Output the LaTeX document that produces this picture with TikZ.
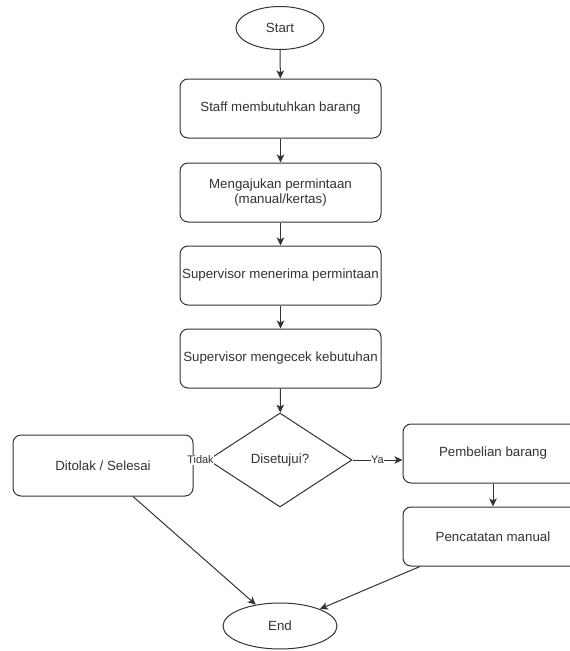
\documentclass[tikz,border=0pt]{standalone}
\usepackage{fontspec}
\setmainfont{Liberation Sans}
\usetikzlibrary{arrows.meta,shapes.geometric}
\definecolor{ink}{HTML}{333333}
\tikzset{
  procbox/.style={draw=ink,line width=1pt,rounded corners=8pt,fill=white,
    minimum width=#1,minimum height=59pt,inner sep=0pt,align=center},
  procbox/.default=201pt,
  terminal/.style={draw=ink,line width=1pt,ellipse,inner sep=0pt,fill=white},
  decision/.style={draw=ink,line width=1pt,diamond,inner sep=0pt,
    minimum width=144pt,minimum height=94pt},
  flow/.style={draw=ink,line width=1pt,-{Stealth[length=8pt,width=7.5pt,inset=2pt]}},
  edgelabel/.style={fill=white,inner sep=0.5pt,font=\fontsize{11}{13}\selectfont}
}
\def\mybox#1#2#3#4{
  % 1: name
  % 2: x
  % 3: y
  % 4: text
  \node[procbox] (#1) at (#2,#3) {#4};
}

\begin{document}
\begin{tikzpicture}[x=1pt,y=-1pt,text=ink,font=\fontsize{13.3}{15.5}\selectfont]
  \useasboundingbox (0,0) rectangle (570,651);
  \clip (0,0) rectangle (570,651);
  \node[terminal,minimum width=88pt,minimum height=43pt] (start) at (280,28) {Start};
  \mybox{staff}{280.5}{108.5}{Staff membutuhkan barang}
  \mybox{ajukan}{280.5}{192.5}{Mengajukan permintaan\\(manual/kertas)}
  \mybox{terima}{280.5}{275.5}{Supervisor menerima permintaan}
  \mybox{cek}{280.5}{358.5}{Supervisor mengecek kebutuhan}
  \node[decision] (setuju) at (280,460) {Disetujui?};
  \node[procbox=180pt,minimum height=61pt] (tolak) at (103,465.5) {Ditolak / Selesai};
  \node[procbox=180pt] (beli) at (493,453.5) {Pembelian barang};
  \node[procbox=180pt] (catat) at (493,536.5) {Pencatatan manual};
  \node[terminal,minimum width=114pt,minimum height=46pt] (end) at (280,626) {End};

  \draw[flow] (start) -- (staff);
  \draw[flow] (staff) -- (ajukan);
  \draw[flow] (ajukan) -- (terima);
  \draw[flow] (terima) -- (cek);
  \draw[flow] (cek) -- (setuju);
  \draw[flow] (setuju.east) -- node[edgelabel] {Ya} (setuju.east -| beli.west);
  \draw[flow] (setuju.west) -- node[edgelabel] {Tidak} (setuju.west -| tolak.east);
  \draw[flow] (beli) -- (catat);
  \draw[flow] ([xshift=30pt]tolak.south) -- (end);
  \draw[flow] ([xshift=-73pt]catat.south) -- (end);
\end{tikzpicture}
\end{document}
